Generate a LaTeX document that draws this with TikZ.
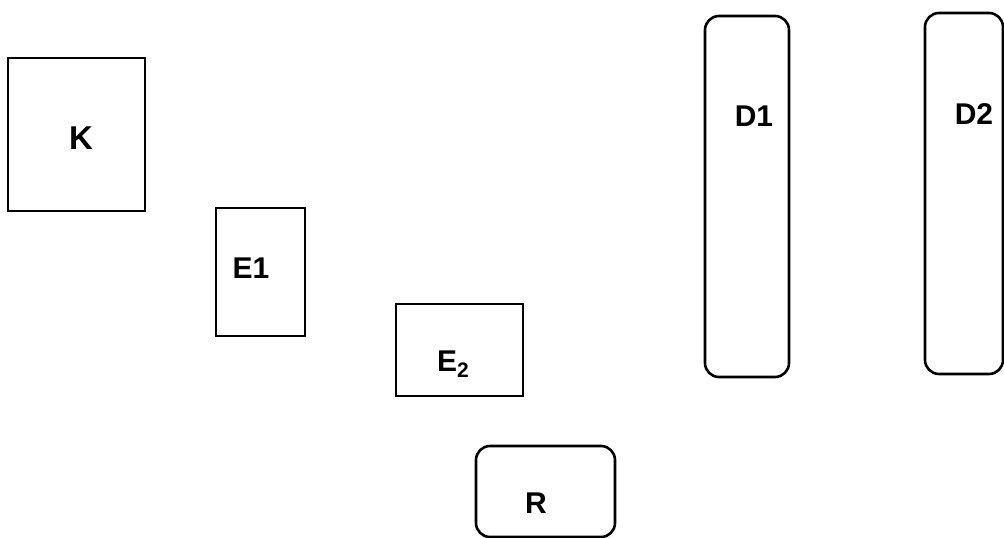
\documentclass[tikz,border=0pt]{standalone}
\usepackage{fontspec}
\setmainfont{Liberation Sans}
\usetikzlibrary{positioning}

\begin{document}
\begin{tikzpicture}[
  x=1pt, y=-1pt,
  box/.style={rectangle, draw, line width=2.8pt, inner sep=0pt},
  rbox/.style={box, rounded corners=14pt, line width=2.6pt},
  lbl/.style={font=\bfseries\fontsize{30}{33}\selectfont, inner sep=0pt},
]
\useasboundingbox (0,0) rectangle (1004,538);
% boxes
\node[box, minimum width=137pt, minimum height=153pt] (K) at (76.5,134.5) {};
\node[box, minimum width=89pt, minimum height=128pt] (E1) at (260.5,272) {};
\node[box, minimum width=127pt, minimum height=92pt] (E2) at (459.5,350) {};
\node[rbox, minimum width=139pt, minimum height=91pt] (R) at (545.5,491.5) {};
\node[rbox, minimum width=84pt, minimum height=361pt] (D1) at (747,196.5) {};
\node[rbox, minimum width=78pt, minimum height=361pt] (D2) at (964,193.5) {};
% labels
\node[lbl, font=\bfseries\fontsize{33}{36}\selectfont] (Klbl) at (81,138) {K};
\node[lbl] (E1lbl) at (251,268) {E1};
\node[lbl, anchor=base west] (E2lbl) at (437,371) {E\textsubscript{2}};
\node[lbl] (Rlbl) at (536,503) {R};
\node[lbl] (D1lbl) at (754,116) {D1};
\node[lbl] (D2lbl) at (974,114) {D2};
\end{tikzpicture}
\end{document}
